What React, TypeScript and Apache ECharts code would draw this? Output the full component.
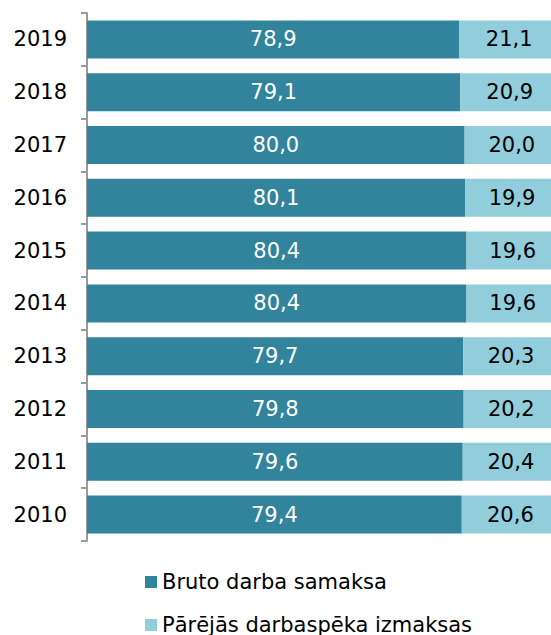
import React, { useEffect, useRef } from "react";
import * as echarts from "echarts";

const years = ["2010", "2011", "2012", "2013", "2014", "2015", "2016", "2017", "2018", "2019"];
const bruto = [79.4, 79.6, 79.8, 79.7, 80.4, 80.4, 80.1, 80.0, 79.1, 78.9];
const other = [20.6, 20.4, 20.2, 20.3, 19.6, 19.6, 19.9, 20.0, 20.9, 21.1];
const seriesNames = ["Bruto darba samaksa", "Pārējās darbaspēka izmaksas"];

const FONT = "Verdana, DejaVu Sans, sans-serif";
const FS = 21;
const fmt = (v: number) => v.toFixed(1).replace(".", ",");

export default function App() {
  const ref = useRef<HTMLDivElement>(null);
  useEffect(() => {
    if (!ref.current) return;
    const chart = echarts.init(ref.current, undefined, { renderer: "svg" });
    const legendBase = {
      orient: "horizontal",
      left: 145,
      padding: 0,
      itemWidth: 12,
      itemHeight: 12,
      icon: "rect",
      textStyle: { fontSize: FS, fontFamily: FONT, color: "#000", lineHeight: 24 },
    };
    chart.setOption({
      animation: false,
      grid: { left: 87, top: 13, width: 472, height: 528, containLabel: false },
      xAxis: { type: "value", min: 0, max: 100, show: false },
      yAxis: {
        type: "category",
        data: years,
        axisLine: { show: true, lineStyle: { color: "#9a9a9a", width: 2 } },
        axisTick: { show: true, length: 6, lineStyle: { color: "#9a9a9a", width: 2 } },
        axisLabel: { color: "#000", fontSize: FS, fontFamily: FONT, margin: 20 },
        splitLine: { show: false },
      },
      legend: [
        { ...legendBase, top: 570, data: [seriesNames[0]] },
        { ...legendBase, top: 613, data: [seriesNames[1]] },
      ],
      series: [
        {
          name: seriesNames[0],
          type: "bar",
          stack: "a",
          data: bruto,
          barWidth: "72%",
          itemStyle: { color: "#31849B" },
          label: {
            show: true,
            position: "inside",
            color: "#fff",
            fontSize: FS,
            fontFamily: FONT,
            formatter: (p: any) => fmt(p.value),
          },
        },
        {
          name: seriesNames[1],
          type: "bar",
          stack: "a",
          data: other,
          barWidth: "72%",
          itemStyle: { color: "#92CDDC" },
          label: {
            show: true,
            position: "inside",
            color: "#000",
            fontSize: FS,
            fontFamily: FONT,
            formatter: (p: any) => fmt(p.value),
          },
        },
      ],
    });
    return () => chart.dispose();
  }, []);
  return (
    <div
      style={{ position: "fixed", left: 0, top: 0, width: 551, height: 635, overflow: "hidden", background: "#fff" }}
    >
      <div ref={ref} style={{ width: 560, height: 635 }} />
    </div>
  );
}
